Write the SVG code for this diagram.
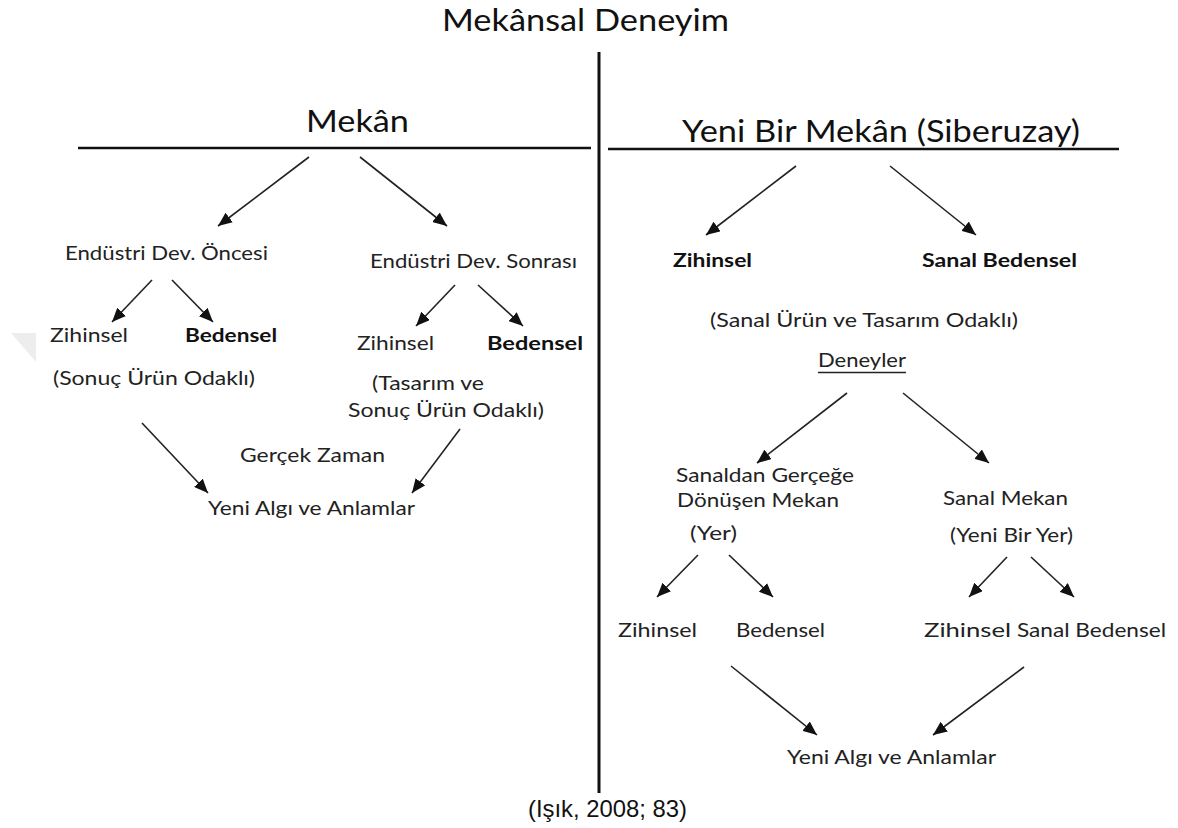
<svg xmlns="http://www.w3.org/2000/svg" width="1178" height="828" viewBox="0 0 1178 828">
<style>
.t{font-family:Lato,"Open Sans","Liberation Sans",sans-serif;font-size:19px;fill:#222}
.b{font-weight:700;fill:#111}
.h{font-size:30px;fill:#111}
.cite{font-family:"Liberation Sans",Arial,sans-serif;font-size:24px;fill:#111}
.a{stroke:#222;stroke-width:1.6;fill:none;marker-end:url(#ah)}
.rule{stroke:#111;stroke-width:2.6;fill:none}
</style>
<defs>
<marker id="ah" markerUnits="userSpaceOnUse" markerWidth="14" markerHeight="12" viewBox="0 0 14 12" refX="14" refY="6" orient="auto">
<path d="M0,0 L14,6 L0,12 z" fill="#111"/>
</marker>
</defs>
<rect width="1178" height="828" fill="#fff"/>
<polygon points="11,333 36,333 36,362" fill="#ededed"/>

<g id="frame">
<line class="rule" x1="599" y1="52" x2="599" y2="793" style="stroke-width:3"/>
<line class="rule" x1="78" y1="148" x2="591" y2="148"/>
<line class="rule" x1="608" y1="149" x2="1119" y2="149"/>
</g>

<g id="title"><text class="t h" x="442" y="31" textLength="287" lengthAdjust="spacingAndGlyphs">Mekânsal Deneyim</text></g>
<g id="mekan"><text class="t h" x="306" y="132" textLength="103" lengthAdjust="spacingAndGlyphs">Mekân</text></g>
<g id="yeni-mekan"><text class="t h" x="682" y="142" textLength="398" lengthAdjust="spacingAndGlyphs">Yeni Bir Mekân (Siberuzay)</text></g>

<g id="l-oncesi"><text class="t" x="65" y="260" textLength="203" lengthAdjust="spacingAndGlyphs">Endüstri Dev. Öncesi</text></g>
<g id="l-sonrasi"><text class="t" x="370" y="268" textLength="207" lengthAdjust="spacingAndGlyphs">Endüstri Dev. Sonrası</text></g>
<g id="l-zihinsel1"><text class="t" x="50" y="342" textLength="78" lengthAdjust="spacingAndGlyphs">Zihinsel</text></g>
<g id="l-bedensel1"><text class="t b" x="185" y="342" textLength="92" lengthAdjust="spacingAndGlyphs">Bedensel</text></g>
<g id="l-zihinsel2"><text class="t" x="357" y="350" textLength="77" lengthAdjust="spacingAndGlyphs">Zihinsel</text></g>
<g id="l-bedensel2"><text class="t b" x="487" y="350" textLength="96" lengthAdjust="spacingAndGlyphs">Bedensel</text></g>
<g id="l-sonuc"><text class="t" x="53" y="385" textLength="202" lengthAdjust="spacingAndGlyphs">(Sonuç Ürün Odaklı)</text></g>
<g id="l-tasarim">
<text class="t" x="372" y="390" textLength="112" lengthAdjust="spacingAndGlyphs">(Tasarım ve</text>
<text class="t" x="348" y="417" textLength="196" lengthAdjust="spacingAndGlyphs">Sonuç Ürün Odaklı)</text>
</g>
<g id="l-gercek"><text class="t" x="240" y="462" textLength="145" lengthAdjust="spacingAndGlyphs">Gerçek Zaman</text></g>
<g id="l-yeni-algi"><text class="t" x="208" y="515" textLength="207" lengthAdjust="spacingAndGlyphs">Yeni Algı ve Anlamlar</text></g>

<g id="r-zihinsel"><text class="t b" x="673" y="267" textLength="79" lengthAdjust="spacingAndGlyphs">Zihinsel</text></g>
<g id="r-sanal-bedensel"><text class="t b" x="922" y="267" textLength="155" lengthAdjust="spacingAndGlyphs">Sanal Bedensel</text></g>
<g id="r-sanal-urun"><text class="t" x="710" y="327" textLength="308" lengthAdjust="spacingAndGlyphs">(Sanal Ürün ve Tasarım Odaklı)</text></g>
<g id="r-deneyler">
<text class="t" x="818" y="367" textLength="88" lengthAdjust="spacingAndGlyphs">Deneyler</text>
<line x1="818" y1="372.5" x2="906" y2="372.5" stroke="#222" stroke-width="1.4"/>
</g>
<g id="r-sanaldan">
<text class="t" x="676" y="482" textLength="178" lengthAdjust="spacingAndGlyphs">Sanaldan Gerçeğe</text>
<text class="t" x="677" y="507" textLength="162" lengthAdjust="spacingAndGlyphs">Dönüşen  Mekan</text>
<text class="t" x="690" y="540" textLength="47" lengthAdjust="spacingAndGlyphs">(Yer)</text>
</g>
<g id="r-sanal-mekan">
<text class="t" x="943" y="505" textLength="125" lengthAdjust="spacingAndGlyphs">Sanal Mekan</text>
<text class="t" x="950" y="542" textLength="123" lengthAdjust="spacingAndGlyphs">(Yeni Bir Yer)</text>
</g>
<g id="r-zihinsel2"><text class="t" x="618" y="637" textLength="79" lengthAdjust="spacingAndGlyphs">Zihinsel</text></g>
<g id="r-bedensel2"><text class="t" x="736" y="637" textLength="89" lengthAdjust="spacingAndGlyphs">Bedensel</text></g>
<g id="r-zihinsel3"><text class="t" x="924" y="637" textLength="87" lengthAdjust="spacingAndGlyphs">Zihinsel</text></g>
<g id="r-sanal-bedensel2"><text class="t" x="1017" y="637" textLength="149" lengthAdjust="spacingAndGlyphs">Sanal Bedensel</text></g>
<g id="r-yeni-algi"><text class="t" x="787" y="764" textLength="209" lengthAdjust="spacingAndGlyphs">Yeni Algı ve Anlamlar</text></g>

<g id="citation"><text class="cite" x="528" y="817" textLength="159" lengthAdjust="spacingAndGlyphs">(Işık, 2008; 83)</text></g>

<g id="connectors">
<line class="a" x1="309" y1="157" x2="218" y2="226"/>
<line class="a" x1="360" y1="157" x2="447" y2="226"/>
<line class="a" x1="152" y1="280" x2="112" y2="322"/>
<line class="a" x1="172" y1="280" x2="213" y2="322"/>
<line class="a" x1="455" y1="285" x2="416" y2="326"/>
<line class="a" x1="478" y1="285" x2="523" y2="326"/>
<line class="a" x1="142" y1="423" x2="208" y2="493"/>
<line class="a" x1="460" y1="429" x2="412" y2="493"/>
<line class="a" x1="796" y1="166" x2="706" y2="235"/>
<line class="a" x1="890" y1="166" x2="976" y2="235"/>
<line class="a" x1="847" y1="393" x2="757" y2="463"/>
<line class="a" x1="903" y1="393" x2="989" y2="463"/>
<line class="a" x1="698" y1="555" x2="657" y2="597"/>
<line class="a" x1="729" y1="555" x2="773" y2="597"/>
<line class="a" x1="1007" y1="557" x2="969" y2="597"/>
<line class="a" x1="1031" y1="557" x2="1074" y2="597"/>
<line class="a" x1="731" y1="666" x2="817" y2="735"/>
<line class="a" x1="1024" y1="667" x2="933" y2="735"/>
</g>
</svg>
